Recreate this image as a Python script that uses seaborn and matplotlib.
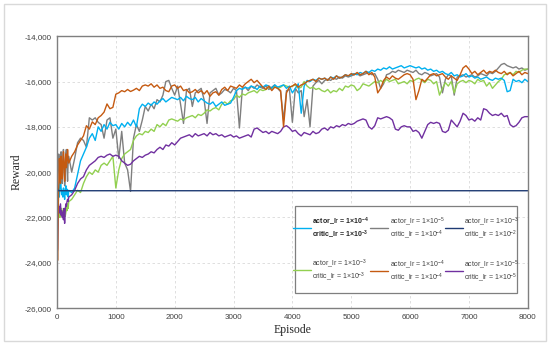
import numpy as np
import pandas as pd
import matplotlib.pyplot as plt
import seaborn as sns
from matplotlib.lines import Line2D
from matplotlib.patches import Rectangle
from matplotlib.ticker import FuncFormatter

sns.set_theme(style="white")
plt.rcParams["font.family"] = ["Liberation Sans", "DejaVu Sans"]
plt.rcParams["mathtext.fontset"] = "custom"
plt.rcParams["mathtext.rm"] = "Liberation Sans"
plt.rcParams["mathtext.bf"] = "Liberation Sans:bold"

# episodes: fine steps at the start, then every 50 episodes
episodes = list(range(0, 200, 10)) + list(range(200, 8001, 50))

cyan_vals = [
    -24500, -21500, -20800, -20900, -21100, -20600, -20200, -20700, -21000, -20800,
    -21100, -20700, -20900, -21200, -20800, -20600, -21000, -20750, -20900, -21100,
    -20800, -20900, -20700, -20100, -19500, -19200,
    -18900, -18500, -18300, -18600, -18000, -18200, -17900, -18100, -17800, -17950,
    -17900, -18100, -17850, -18000, -17800, -17950, -17700, -18000, -17200, -17000,
    -17100, -16950, -17050, -16900, -17000, -16850, -16750, -16900, -16800, -16700,
    -16750, -16800, -16700, -16850, -16650, -16750, -16800, -16700, -16900, -16750,
    -16850, -16950, -17000, -16900, -17100, -17000, -16900, -17050, -17000, -16950,
    -16700, -16400, -16300, -16350, -16250, -16300, -16200, -16250, -16350, -16200,
    -16250, -16150, -16200, -16300, -16150, -16250, -16200, -16150, -16300, -16200,
    -16500, -16300, -16100, -17400, -16200, -15950, -16000, -15900, -15950, -15850,
    -15900, -15850, -15950, -15800, -15850, -15750, -15850, -15800, -15700, -15750,
    -15700, -15650, -15700, -15600, -15650, -15550, -15600, -15500, -15550, -15450,
    -15500, -15400, -15450, -15350, -15450, -15400, -15350, -15300, -15400, -15350,
    -15300, -15350, -15400, -15350, -15450, -15400, -15500, -15450, -15550, -15500,
    -15600, -15550, -15650, -15700, -15600, -15750, -15700, -15800, -15750, -15650,
    -15800, -15750, -15850, -15800, -15900, -15850, -15800, -15900, -15950, -15850,
    -15900, -15850, -15950, -16450, -16400, -15900, -16000, -15950, -16050, -15900,
    -16000,
]

gray_vals = [
    -20800, -20200, -19600, -19200, -20100, -20700, -19300, -19100, -19900, -20500,
    -19300, -19000, -19700, -20600, -20200, -19200, -19000, -19800, -20400, -19500,
    -19300, -20000, -19400, -18700, -18500, -18600,
    -18900, -17600, -17700, -17600, -17800, -17900, -18500, -17700, -17600, -18500,
    -18100, -19400, -18200, -19600, -19900, -20850, -18500, -17900, -18200, -17700,
    -17100, -17300, -17000, -17200, -16800, -16900, -16600, -16000, -15950, -16300,
    -16600, -16200, -17000, -17850, -16400, -16300, -17100, -16500, -16400, -16300,
    -16800, -17850, -16500, -16400, -16300, -16600, -16500, -16350, -16400, -16500,
    -16300, -16400, -18050, -16300, -16250, -16400, -16200, -16300, -16150, -16250,
    -16300, -16200, -16350, -16250, -16150, -16300, -16450, -17700, -16400, -16350,
    -17800, -16300, -16500, -16400, -17550, -16800, -18000, -16200, -16050, -15950,
    -16100, -15950, -15900, -15950, -15850, -15900, -15800, -15850, -15750, -15800,
    -15750, -15700, -15650, -15750, -15700, -15650, -15600, -15700, -15650, -15900,
    -16300, -16100, -15700, -15650, -15550, -15600, -15500, -15550, -15600, -15500,
    -15550, -15600, -15500, -15650, -15700, -15600, -15650, -15750, -15700, -15650,
    -15800, -16500, -15900, -15700, -15750, -16600, -15800, -15750, -15700, -15800,
    -15750, -15700, -15800, -15750, -15650, -15700, -15750, -15600, -15650, -15550,
    -15400, -15250, -15200, -15300, -15350, -15400, -15350, -15450, -15400, -15500,
    -15450,
]

green_vals = [
    -21300, -21600, -21900, -21500, -21800, -22000, -21700, -21900, -21600, -21800,
    -22000, -21700, -21900, -21600, -21950, -21800, -21500, -21700, -21400, -21600,
    -21300, -21200, -21000, -20800, -20900, -20500,
    -20200, -20000, -20100, -19900, -20000, -19700, -19600, -19700, -19500, -19300,
    -20700, -19900, -19400, -19200, -19100, -19000, -18600, -18400, -18300, -18350,
    -18200, -18250, -18100, -18200, -17900, -18000, -17850, -17950, -17700, -17650,
    -17700, -17750, -17650, -17700, -17600, -17550, -17500, -17600, -17450, -17500,
    -17400, -17250, -17300, -17200, -17150, -17250, -17000, -16900, -17000, -16850,
    -16800, -16600, -16700, -16550, -16600, -16500, -16450, -16400, -16500, -16350,
    -16400, -16350, -16250, -16300, -16200, -16300, -16250, -16150, -16200, -16250,
    -16200, -16150, -16300, -16250, -16000, -16200, -16300, -16250, -16350, -16300,
    -16400, -16450, -16350, -16500, -16400, -16450, -16300, -16400, -16200, -16250,
    -16150, -16200, -16400, -16300, -16100, -16150, -16200, -16100, -16000, -16050,
    -15950, -16050, -15900, -16000, -15950, -15900, -16100, -16050, -16000, -16100,
    -15950, -16000, -15900, -15850, -15950, -16050, -15900, -15950, -16100, -16000,
    -16600, -16300, -16050, -16200, -16000, -16500, -16100, -16000, -15950, -16050,
    -15950, -16000, -16100, -15900, -16000, -15950, -16200, -16050, -16300, -16150,
    -16000, -15900, -15700, -15650, -15600, -15700, -15550, -15600, -15500, -15450,
    -15450,
]

orange_vals = [
    -21000, -23900, -21800, -20600, -19400, -19900, -20500, -19300, -19700, -20300,
    -19500, -19100, -19800, -20400, -19600, -19200, -19800, -19500, -19000, -19400,
    -19600, -19300, -19100, -18800, -18600, -18400,
    -17950, -18100, -17780, -17900, -17600, -17500, -17350, -16990, -17200, -17140,
    -16560, -16500, -16400, -16450, -16350, -16440, -16380, -16300, -16400, -16200,
    -16150, -16200, -16100, -16250, -16150, -16300, -16250, -16400, -16450, -16200,
    -16150, -16300, -16200, -16400, -16350, -16500, -16450, -16350, -16500, -16400,
    -16550, -16400, -16650, -16500, -16450, -16600, -16350, -16250, -16400, -16200,
    -16250, -16300, -16150, -16250, -16100, -16000, -15900, -16050, -15950, -16100,
    -16250, -16350, -16200, -16400, -16250, -16300, -16400, -18000, -16500, -16250,
    -16200, -16100, -16250, -16150, -16100, -16000, -15950, -15900, -16000, -15850,
    -15900, -15850, -15950, -15800, -15900, -15750, -15850, -15800, -15700, -15750,
    -15650, -15700, -15600, -15700, -15650, -15550, -15700, -15600, -15800, -16500,
    -16300, -15950, -15800, -15900, -15750, -15850, -15900, -15800, -15700, -15650,
    -15700, -15900, -16800, -16400, -15900, -16000, -15850, -15700, -15650, -15750,
    -15700, -15650, -15800, -15900, -15750, -15850, -15950, -15700, -15400, -15300,
    -15450, -15650, -15550, -15700, -15600, -15500, -15650, -15550, -15600, -15500,
    -15600, -15650, -15550, -15700, -15600, -15750, -15650, -15550, -15700, -15600,
    -15650,
]

purple_vals = [
    -23600, -23400, -22000, -21500, -21800, -21600, -21400, -21900, -21700, -22000,
    -21800, -22100, -21600, -22260, -21700, -21400, -21500, -21300, -21200, -21300,
    -21100, -21000, -20800, -20500, -20300, -20200,
    -19900, -19700, -19600, -19500, -19350, -19300, -19350, -19250, -19200, -19300,
    -19250, -19300, -19500, -19600, -19700, -19650, -19500, -19400, -19300, -19350,
    -19250, -19200, -19100, -19150, -19000, -18900, -19000, -18800, -18850, -18700,
    -18800, -18650, -18500, -18450, -18400, -18350, -18450, -18300, -18400, -18350,
    -18300, -18400, -18250, -18350, -18300, -18400, -18350, -18450, -18400, -18350,
    -18450, -18400, -18500, -18450, -18400, -18350, -18450, -18100, -18050, -18150,
    -18250, -18200, -18300, -18200, -18250, -18300, -18200, -18000, -17950, -18050,
    -18200, -18150, -18300, -18400, -18250, -18300, -18350, -18200, -18300, -18250,
    -18100, -18050, -18150, -18000, -18050, -17950, -18000, -17900, -17950, -17850,
    -17900, -17850, -17750, -17700, -17650, -17700, -18000, -18100, -17950, -17600,
    -17650, -17600, -17550, -17600, -17700, -18100, -18150, -18000, -17950, -18000,
    -18000, -18200, -18150, -18250, -18500, -18200, -17900, -17800, -17850, -17800,
    -17850, -18200, -18250, -18150, -17700, -17850, -18000, -17750, -17400, -17500,
    -17700, -17650, -17750, -17600, -17700, -17200, -17250, -17400, -17500, -17450,
    -17500, -17400, -17550, -17500, -17900, -18000, -17950, -17800, -17600, -17550,
    -17550,
]

# the flat run only has a short blip at the very start
navy_episodes = [0, 10, 20, 8000]
navy_vals = [-20600, -20750, -20820, -20820]

colors = {
    "cyan": "#00B0F0",
    "gray": "#7F7F7F",
    "navy": "#1F3B73",
    "green": "#92D050",
    "orange": "#C55A11",
    "purple": "#7030A0",
}
labels = {
    "cyan": "actor_lr = 1×10$^{\\mathbf{-4}}$\ncritic_lr = 1×10$^{\\mathbf{-3}}$",
    "gray": "actor_lr = 1×10$^{-5}$\ncritic_lr = 1×10$^{-4}$",
    "navy": "actor_lr = 1×10$^{-3}$\ncritic_lr = 1×10$^{-2}$",
    "green": "actor_lr = 1×10$^{-3}$\ncritic_lr = 1×10$^{-3}$",
    "orange": "actor_lr = 1×10$^{-4}$\ncritic_lr = 1×10$^{-4}$",
    "purple": "actor_lr = 1×10$^{-5}$\ncritic_lr = 1×10$^{-5}$",
}

frames = []
for name, vals in [("cyan", cyan_vals), ("gray", gray_vals), ("green", green_vals),
                   ("orange", orange_vals), ("purple", purple_vals)]:
    frames.append(pd.DataFrame({"Episode": episodes, "Reward": vals, "run": name}))
frames.append(pd.DataFrame({"Episode": navy_episodes, "Reward": navy_vals, "run": "navy"}))
df = pd.concat(frames, ignore_index=True)

fig = plt.figure(figsize=(5.5, 3.45), dpi=100)
ax = fig.add_axes([0.1036, 0.107, 0.856, 0.788])

sns.lineplot(
    data=df, x="Episode", y="Reward", hue="run",
    hue_order=["gray", "green", "cyan", "purple", "orange", "navy"],
    palette=colors, linewidth=1.0, legend=False, ax=ax, sort=False,
)

ax.set_xlim(0, 8000)
ax.set_ylim(-26000, -14000)
ax.set_xticks(range(0, 8001, 1000))
ax.set_yticks(range(-26000, -13999, 2000))
ax.yaxis.set_major_formatter(FuncFormatter(lambda v, p: f"{int(v):,}"))
ax.tick_params(axis="both", labelsize=5.8, labelcolor="#404040", length=0, pad=4)
ax.grid(True, color="#D9D9D9", linestyle=(0, (3, 3)), linewidth=0.6)

for s in ax.spines.values():
    s.set_color("#7F7F7F")
    s.set_linewidth(1.0)

ax.set_xlabel("Episode", family="Liberation Serif", fontsize=8.5, color="#262626", labelpad=2.5)
ax.set_ylabel("Reward", family="Liberation Serif", fontsize=8.5, color="#262626", labelpad=1)

# legend box drawn separately so the padding can differ left/right and top/bottom
ax.add_patch(Rectangle((0.505, 0.055), 0.472, 0.32, transform=ax.transAxes,
                       facecolor="white", edgecolor="#7F7F7F", linewidth=0.9, zorder=4))

# legend filled row by row (matplotlib fills columns first)
order = ["cyan", "green", "gray", "orange", "navy", "purple"]
handles = [Line2D([], [], color=colors[n], linewidth=1.0) for n in order]
leg = ax.legend(
    handles, [labels[n] for n in order], ncol=3, loc="center",
    bbox_to_anchor=(0.741, 0.215), frameon=False,
    fontsize=5.0, labelspacing=2.4, handlelength=2.6, handletextpad=0.2,
    columnspacing=0.1, borderpad=0.2,
)
leg.set_zorder(5)
for t in leg.get_texts():
    t.set_color("#404040")
    t.set_linespacing(1.05)
leg.get_texts()[0].set_fontweight("bold")
leg.get_texts()[0].set_color("#262626")

fig.patches.append(Rectangle((0.008, 0.012), 0.984, 0.976, transform=fig.transFigure,
                             fill=False, edgecolor="#D9D9D9", linewidth=1.0))

fig.savefig("out.png", dpi=100)
